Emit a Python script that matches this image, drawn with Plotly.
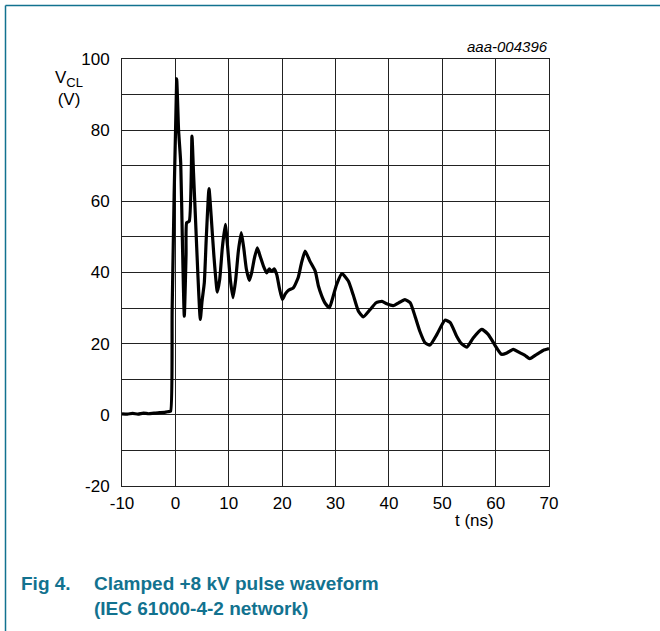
import plotly.graph_objects as go

# Waveform samples (t in ns, V_CL in V)
t_ns = [-10, -9, -8, -7, -6, -5, -4, -3, -2, -1.3, -0.9, -0.6, 0.24, 0.6, 1.0, 1.3, 1.67,
        2.0, 2.12, 2.6, 3.11, 3.4, 3.8, 4.2, 4.67, 5.0, 5.42, 5.8, 6.3, 6.7, 7.2, 7.86,
        8.3, 8.8, 9.36, 9.8, 10.3, 10.8, 11.3, 11.8, 12.35, 12.8, 13.3, 13.85, 14.3, 14.8,
        15.35, 15.9, 16.5, 17.1, 17.6, 18.05, 18.5, 19.0, 19.5, 20.04, 20.6, 21.2, 22.1,
        23.0, 23.6, 24.3, 25.2, 26.2, 26.8, 27.4, 28.0, 28.85, 29.5, 30.2, 31.2, 32.4,
        33.3, 34.3, 35.2, 36.5, 37.6, 38.7, 39.6, 40.8, 42.1, 43.0, 44.0, 44.9, 45.8,
        46.8, 47.7, 49.0, 50.5, 51.5, 52.7, 53.6, 54.6, 55.8, 57.4, 58.6, 60.2, 61.1,
        62.1, 63.3, 64.6, 65.5, 66.4, 67.7, 68.9, 70]
v_cl = [0.3, 0.2, 0.4, 0.2, 0.5, 0.3, 0.5, 0.6, 0.7, 0.9, 1.0, 30, 94.4, 80, 70.8, 50, 27.7,
        45, 54, 54.4, 78.3, 68, 54, 40, 26.8, 32, 37.1, 50, 63.6, 56, 45, 34.5,
        38, 47, 53.5, 47, 38, 32.9, 38, 46, 51.2, 47, 41, 37.8, 40, 44,
        46.9, 44.5, 41.8, 39.9, 41.0, 40.3, 41, 39.4, 35.5, 32.4, 34, 35.0, 35.7,
        38.5, 42.5, 46.0, 43.2, 40.4, 36.2, 33.5, 31.5, 30.1, 33, 36.6, 39.7, 37.6,
        33.8, 29.1, 27.5, 29.6, 31.5, 31.9, 31.2, 30.7, 31.7, 32.4, 31.5, 27.7, 23.5,
        20.2, 19.6, 22.6, 26.6, 25.9, 22.1, 20, 19.0, 21.6, 24.0, 22.6, 18.8, 17.0,
        17.4, 18.4, 17.4, 16.7, 15.8, 17.0, 18.1, 18.6]

x_ticks = [-10, 0, 10, 20, 30, 40, 50, 60, 70]
y_ticks = [-20, -10, 0, 10, 20, 30, 40, 50, 60, 70, 80, 90, 100]
y_labels = ["-20", "", "0", "", "20", "", "40", "", "60", "", "80", "", "100"]

TEAL = "#12728f"
FONT = "Liberation Sans, Arial, sans-serif"

fig = go.Figure()
fig.add_trace(go.Scatter(x=t_ns, y=v_cl, mode="lines",
                         line=dict(color="black", width=3.2, shape="spline", smoothing=0.5),
                         hoverinfo="skip", showlegend=False))

W, H = 660, 631
L, R, T, B = 122, 111, 59, 145
pw, ph = W - L - R, H - T - B

def px(x):
    return (x - L) / pw

def py(y):
    return 1 - (y - T) / ph

fig.update_layout(
    width=W, height=H,
    margin=dict(l=L, r=R, t=T, b=B, pad=0),
    paper_bgcolor="white", plot_bgcolor="white",
    font=dict(family=FONT, size=17, color="black"),
    xaxis=dict(range=[-10, 70], tickvals=x_ticks, ticktext=[str(v) for v in x_ticks],
               showgrid=True, gridcolor="#222", gridwidth=1, zeroline=False,
               showline=True, linecolor="#222", linewidth=1, mirror=True,
               ticks="", ticklabelstandoff=2, fixedrange=True),
    yaxis=dict(range=[-20, 100], tickvals=y_ticks, ticktext=y_labels,
               showgrid=True, gridcolor="#222", gridwidth=1, zeroline=False,
               showline=True, linecolor="#222", linewidth=1, mirror=True,
               ticks="", ticklabelstandoff=8, fixedrange=True),
    shapes=[
        dict(type="line", xref="paper", yref="paper", x0=px(5.5), x1=px(5.5), y0=py(5.5), y1=py(640),
             line=dict(color=TEAL, width=1.5)),
        dict(type="line", xref="paper", yref="paper", x0=px(5.5), x1=px(665), y0=py(5.5), y1=py(5.5),
             line=dict(color=TEAL, width=1.5)),
    ],
    annotations=[
        dict(xref="paper", yref="paper", x=px(69), y=py(89),
             text="V<sub><span style='font-size:13px'>CL</span></sub><br>(V)",
             showarrow=False, xanchor="center", yanchor="middle", align="center",
             font=dict(size=17, family=FONT)),
        dict(xref="paper", yref="paper", x=px(474), y=py(520), text="t (ns)",
             showarrow=False, xanchor="center", yanchor="middle",
             font=dict(size=17, family=FONT)),
        dict(xref="paper", yref="paper", x=px(550), y=py(47), text="<i>aaa-004396</i>",
             showarrow=False, xanchor="right", yanchor="middle",
             font=dict(size=15, family=FONT)),
        dict(xref="paper", yref="paper", x=px(19), y=py(583), text="<b>Fig 4.</b>",
             showarrow=False, xanchor="left", yanchor="middle",
             font=dict(size=19, family=FONT, color=TEAL)),
        dict(xref="paper", yref="paper", x=px(92), y=py(596),
             text="<b>Clamped +8 kV pulse waveform<br>(IEC 61000-4-2 network)</b>",
             showarrow=False, xanchor="left", yanchor="middle", align="left",
             font=dict(size=19, family=FONT, color=TEAL)),
    ],
)

fig.write_html("out.html", config={"displayModeBar": False},
               post_script="document.body.style.margin='0';")
